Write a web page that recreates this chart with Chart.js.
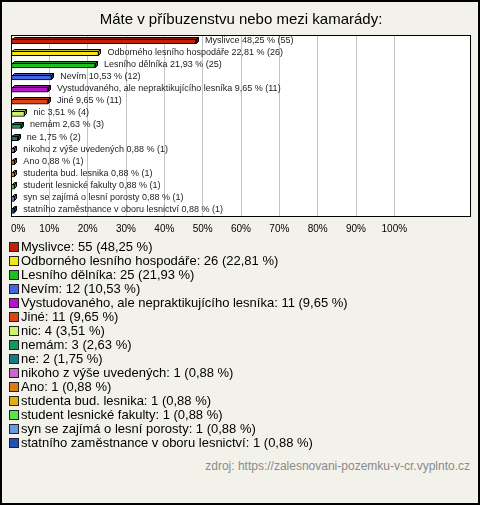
<!DOCTYPE html>
<html>
<head>
<meta charset="utf-8">
<script src="https://cdn.jsdelivr.net/npm/chart.js@4/dist/chart.umd.min.js"></script>
<style>
  html, body { margin: 0; padding: 0; background: #ffffff; }
  #frame { position: absolute; left: 0; top: 0; width: 480px; height: 505px; box-sizing: border-box;
           border: 2px solid #000; background: #f3f2ea; font-family: "Liberation Sans", Arial, sans-serif; }
  #chartBox { position: absolute; left: -2px; top: -2px; width: 480px; height: 244px; }
  #legend { position: absolute; left: 7px; top: 238px; font-size: 13px; color: #000; }
  .row { height: 14px; line-height: 14px; white-space: nowrap; display: flex; align-items: center; }
  .sw { width: 8px; height: 8px; border: 1px solid #222; margin-right: 2px; flex: none; }
  #source { position: absolute; right: 8px; top: 457px; font-size: 12px; color: #8a8a8a; }
</style>
</head>
<body>
<div id="frame">
  <div id="chartBox"><canvas id="c" width="480" height="244"></canvas></div>
  <div id="legend"></div>
  <div id="source"></div>
</div>
<script>
const chartTitle = "Máte v příbuzenstvu nebo mezi kamarády:";
const categories = [
  "Myslivce",
  "Odborného lesního hospodáře",
  "Lesního dělníka",
  "Nevím",
  "Vystudovaného, ale nepraktikujícího lesníka",
  "Jiné",
  "nic",
  "nemám",
  "ne",
  "nikoho z výše uvedených",
  "Ano",
  "studenta bud. lesnika",
  "student lesnické fakulty",
  "syn se zajímá o lesní porosty",
  "statního zaměstnance v oboru lesnictví"
];
const counts = [55, 26, 25, 12, 11, 11, 4, 3, 2, 1, 1, 1, 1, 1, 1];
const percents = [48.25, 22.81, 21.93, 10.53, 9.65, 9.65, 3.51, 2.63, 1.75, 0.88, 0.88, 0.88, 0.88, 0.88, 0.88];
const colors = ["#c21f0c", "#f2e51a", "#1fbf1f", "#4466e0", "#b614cc", "#df4411", "#ccf26a", "#129960",
                "#157a88", "#cc66cc", "#e07a10", "#e0ae12", "#55e844", "#6a98e0", "#2450b8"];
const tickValues = [0, 10, 20, 30, 40, 50, 60, 70, 80, 90, 100];
const sourceText = "zdroj: https://zalesnovani-pozemku-v-cr.vyplnto.cz";

const fmt = v => v.toFixed(2).replace('.', ',');

function shade(hex, f) {
  const n = parseInt(hex.slice(1), 16);
  const r = Math.round(((n >> 16) & 255) * f), g = Math.round(((n >> 8) & 255) * f), b = Math.round((n & 255) * f);
  return `rgb(${r},${g},${b})`;
}

const DEPTH = 2;

const plotFrame = {
  id: 'plotFrame',
  beforeDraw(chart) {
    const { ctx, chartArea: a } = chart;
    ctx.save();
    ctx.fillStyle = '#ffffff';
    ctx.fillRect(a.left, a.top, a.right - a.left, a.bottom - a.top);
    ctx.restore();
  },
  afterDraw(chart) {
    const { ctx, chartArea: a } = chart;
    ctx.save();
    ctx.strokeStyle = '#000';
    ctx.lineWidth = 1;
    ctx.strokeRect(Math.round(a.left) + 0.5, Math.round(a.top) + 0.5,
                   Math.round(a.right - a.left) - 1, Math.round(a.bottom - a.top) - 1);
    ctx.restore();
  }
};

const bar3d = {
  id: 'bar3d',
  afterDatasetsDraw(chart) {
    const ctx = chart.ctx;
    const meta = chart.getDatasetMeta(0);
    ctx.save();
    ctx.lineWidth = 1;
    ctx.strokeStyle = '#000';
    meta.data.forEach((el, i) => {
      const p = el.getProps(['x', 'y', 'base', 'height'], true);
      const top = Math.round(p.y - p.height / 2) + 0.5;
      const bot = Math.round(p.y + p.height / 2) - 0.5;
      const x = Math.round(p.x) + 0.5, b = Math.round(p.base) + 0.5;
      const d = DEPTH;
      ctx.fillStyle = shade(colors[i], 0.8);
      ctx.beginPath();
      ctx.moveTo(b, top); ctx.lineTo(b + d, top - d); ctx.lineTo(x + d, top - d); ctx.lineTo(x, top); ctx.closePath();
      ctx.fill(); ctx.stroke();
      ctx.fillStyle = shade(colors[i], 0.6);
      ctx.beginPath();
      ctx.moveTo(x, top); ctx.lineTo(x + d, top - d); ctx.lineTo(x + d, bot - d); ctx.lineTo(x, bot); ctx.closePath();
      ctx.fill(); ctx.stroke();
      ctx.fillStyle = '#222';
      ctx.font = '9px "Liberation Sans", Arial, sans-serif';
      ctx.textBaseline = 'middle';
      ctx.textAlign = 'left';
      ctx.fillText(`${categories[i]} ${fmt(percents[i])} % (${counts[i]})`, p.x + 9, p.y - 1);
    });
    ctx.restore();
  }
};

new Chart(document.getElementById('c'), {
  type: 'bar',
  data: {
    labels: categories,
    datasets: [{
      data: percents,
      backgroundColor: colors,
      borderColor: '#000',
      borderWidth: 1,
      borderSkipped: false,
      barThickness: 5
    }]
  },
  plugins: [plotFrame, bar3d],
  options: {
    indexAxis: 'y',
    responsive: false,
    animation: false,
    devicePixelRatio: 1,
    layout: { padding: { left: 11, right: 9, top: 0, bottom: 3 } },
    plugins: {
      legend: { display: false },
      tooltip: { enabled: false },
      title: {
        display: true,
        text: chartTitle,
        color: '#000',
        font: { family: '"Liberation Sans", Arial, sans-serif', size: 15, weight: 'normal' },
        padding: { top: 11, bottom: 6 }
      }
    },
    scales: {
      x: {
        min: 0, max: 120,
        afterBuildTicks(axis) { axis.ticks = tickValues.concat([120]).map(v => ({ value: v })); },
        grid: {
          drawTicks: false,
          color: ctx => (ctx.tick && ctx.tick.value > 100) ? 'rgba(0,0,0,0)' : '#c4c4c4',
          lineWidth: 1
        },
        border: { display: false },
        ticks: {
          autoSkip: false,
          maxRotation: 0,
          align: 'inner',
          padding: 6,
          color: '#000',
          font: { family: '"Liberation Sans", Arial, sans-serif', size: 10 },
          callback: v => (v <= 100 ? v + '%' : '')
        }
      },
      y: {
        grid: { display: false, drawTicks: false },
        border: { display: false },
        ticks: { display: false }
      }
    }
  }
});

const legend = document.getElementById('legend');
categories.forEach((c, i) => {
  const row = document.createElement('div');
  row.className = 'row';
  const sw = document.createElement('span');
  sw.className = 'sw';
  sw.style.background = colors[i];
  const t = document.createElement('span');
  t.textContent = `${c}: ${counts[i]} (${fmt(percents[i])} %)`;
  row.appendChild(sw); row.appendChild(t);
  legend.appendChild(row);
});
document.getElementById('source').textContent = sourceText;
</script>
</body>
</html>
